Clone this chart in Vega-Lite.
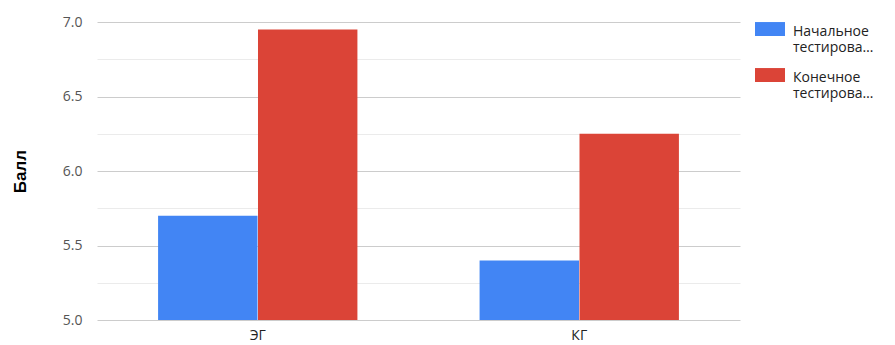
{
  "$schema": "https://vega.github.io/schema/vega-lite/v6.json",
  "width": 643,
  "height": 298,
  "autosize": {"type": "none"},
  "padding": {"left": 97, "top": 22, "right": 155, "bottom": 25},
  "background": "white",
  "config": {"view": {"stroke": null}, "font": "Open Sans"},
  "data": {"values": [
    {"group": "ЭГ", "test": "Начальное тестирование", "score": 5.7},
    {"group": "ЭГ", "test": "Конечное тестирование", "score": 6.95},
    {"group": "КГ", "test": "Начальное тестирование", "score": 5.4},
    {"group": "КГ", "test": "Конечное тестирование", "score": 6.25}
  ]},
  "mark": {"type": "bar", "clip": true},
  "encoding": {
    "x": {
      "field": "group", "type": "nominal", "sort": ["ЭГ", "КГ"],
      "scale": {"paddingInner": 0.38, "paddingOuter": 0.19},
      "axis": {"title": null, "labelAngle": 0, "ticks": false, "domain": false, "labelFontSize": 14, "labelColor": "#222", "labelPadding": 8}
    },
    "xOffset": {
      "field": "test", "type": "nominal", "sort": ["Начальное тестирование", "Конечное тестирование"],
      "scale": {"paddingInner": 0.005, "paddingOuter": 0}
    },
    "y": {
      "field": "score", "type": "quantitative",
      "scale": {"domain": [5, 7], "zero": false, "nice": false},
      "axis": {
        "title": "Балл",
        "titleFont": "Liberation Sans",
        "titleFontSize": 17,
        "titleFontWeight": "bold",
        "titleColor": "#000",
        "titleX": -77,
        "titleY": 149,
        "titleBaseline": "middle",
        "values": [5, 5.25, 5.5, 5.75, 6, 6.25, 6.5, 6.75, 7],
        "labelExpr": "datum.value % 0.5 == 0 ? format(datum.value, '.1f') : ''",
        "labelFontSize": 14,
        "labelColor": "#555",
        "labelPadding": 15,
        "ticks": false,
        "domain": false,
        "gridColor": {"condition": {"test": "datum.value % 0.5 == 0", "value": "#cccccc"}, "value": "#ebebeb"}
      }
    },
    "color": {
      "field": "test", "type": "nominal", "sort": ["Начальное тестирование", "Конечное тестирование"],
      "scale": {"range": ["#4285F4", "#DB4437"]},
      "legend": {
        "title": null,
        "orient": "none",
        "legendX": 658,
        "legendY": -1,
        "symbolType": "M-1,-0.93H1V0H-1Z",
        "symbolSize": 900,
        "symbolOpacity": 1,
        "symbolStrokeWidth": 0,
        "labelFontSize": 14,
        "labelColor": "#222",
        "labelOffset": 8,
        "labelLimit": 200,
        "labelBaseline": "alphabetic",
        "labelLineHeight": 18,
        "labelExpr": "datum.label == 'Начальное тестирование' ? ['Начальное', 'тестирова…'] : ['Конечное', 'тестирова…']",
        "rowPadding": 12
      }
    }
  }
}
